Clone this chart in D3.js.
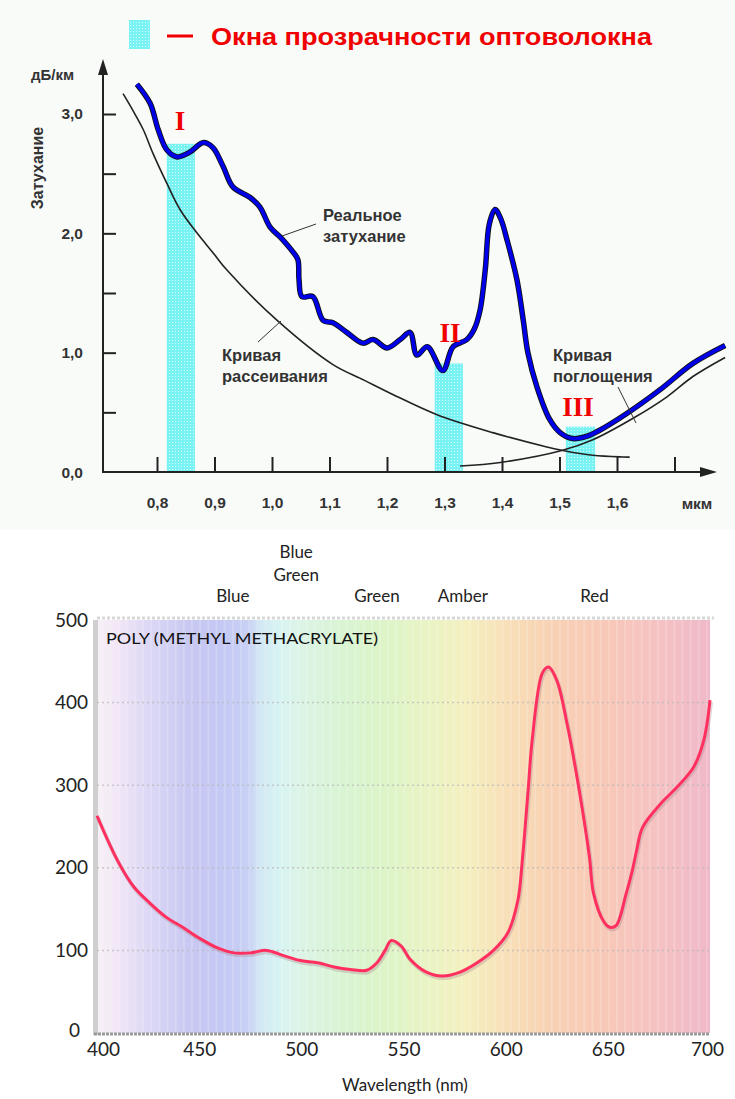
<!DOCTYPE html>
<html><head><meta charset="utf-8">
<script src="https://cdn.jsdelivr.net/npm/d3@7"></script>
<style>
html,body{margin:0;padding:0;background:#fff;}
svg{display:block;}
</style></head>
<body>
<svg id="chart" width="735" height="1099"></svg>
<script>
// ---------- Top chart data (wavelength in µm, attenuation in dB/km) ----------
const topTitle = "Окна прозрачности оптоволокна";
const topXTicks = [0.8, 0.9, 1.0, 1.1, 1.2, 1.3, 1.4, 1.5, 1.6, 1.7];
const topXTickLabels = ["0,8", "0,9", "1,0", "1,1", "1,2", "1,3", "1,4", "1,5", "1,6", ""];
const topYTicks = [0.5, 1.0, 1.5, 2.0, 2.5, 3.0];
const topYTickLabels = {"1": "1,0", "2": "2,0", "3": "3,0"};
const windowLabels = ["I", "II", "III"];
const windowStart = [0.817, 1.283, 1.511];
const windowEnd = [0.866, 1.332, 1.562];
const windowTop = [2.75, 0.91, 0.38];

const realWl = [0.765,0.788,0.802,0.817,0.835,0.857,0.880,0.897,0.915,0.932,0.962,0.979,0.997,1.014,1.037,1.045,1.047,1.052,1.071,1.089,1.106,1.130,1.158,1.176,1.200,1.223,1.240,1.252,1.270,1.297,1.315,1.339,1.352,1.362,1.371,1.378,1.388,1.398,1.409,1.426,1.437,1.445,1.461,1.483,1.501,1.523,1.548,1.570,1.617,1.675,1.732,1.788];
const realVal = [3.25,3.09,2.87,2.70,2.64,2.68,2.76,2.72,2.56,2.39,2.30,2.22,2.05,1.97,1.84,1.78,1.61,1.47,1.47,1.27,1.25,1.17,1.08,1.11,1.04,1.11,1.17,0.98,1.05,0.85,1.05,1.11,1.20,1.36,1.70,2.08,2.20,2.12,1.94,1.61,1.27,1.00,0.71,0.44,0.33,0.28,0.30,0.35,0.49,0.69,0.91,1.06];

const scatterWl = [0.741,0.758,0.776,0.793,0.817,0.840,0.870,0.897,0.922,1.009,1.106,1.160,1.210,1.287,1.384,1.478,1.506,1.558,1.609,1.622];
const scatterVal = [3.17,3.03,2.87,2.67,2.42,2.20,2.00,1.84,1.69,1.27,0.90,0.77,0.65,0.48,0.33,0.21,0.18,0.14,0.126,0.125];

const absorbWl = [1.327,1.397,1.504,1.558,1.628,1.687,1.732,1.788];
const absorbVal = [0.05,0.08,0.18,0.27,0.45,0.63,0.80,0.96];

// ---------- Bottom chart data (PMMA attenuation, wavelength nm) ----------
const pmmaTitle = "POLY (METHYL METHACRYLATE)";
const bandNames = [["Blue"], ["Blue", "Green"], ["Green"], ["Amber"], ["Red"]];
const bandCenters = [466.5, 497.5, 537, 579, 643.5];
const pmmaXTicks = [400, 450, 500, 550, 600, 650, 700];
const pmmaYTicks = [0, 100, 200, 300, 400, 500];
const pmmaWl = [400,410,418,426,434,442,450,459,467,475,483,491,499,508,516,524,532,537,541,544,549,553,561,569,578,586,594,601,606,608,611,613,618,621,625,630,636,641,643,648,651,654,659,662,664,667,676,684,692,697,700];
const pmmaVal = [263,209,177,157,140,128,115,103,97,97,100,94,88,85,80,77,76,85,100,112,105,90,74,69,74,85,100,121,161,205,294,355,436,443,427,375,294,213,169,135,128,130,169,197,220,249,278,298,322,355,403];

// spectrum background colours (decoration)
const specWl = [400,410,420,432,445,460,474,480,490,500,520,540,560,580,600,620,650,680,700];
const specCol = ["#f6f0f6","#f2e6f6","#e4dcf6","#d4d2f4","#c8c8f2","#c4c8f4","#c8d0f4","#d2e8f4","#d8f4f2","#dcf4e6","#d8f4d2","#dcf4c8","#e8f4c4","#f4f0c0","#f8e0b8","#f8d2b4","#f8c8b8","#f4c0c4","#f0b8c8"];

const svg = d3.select("#chart");
const defs = svg.append("defs");

// ================= TOP CHART =================
svg.append("rect").attr("x",0).attr("y",0).attr("width",735).attr("height",530).attr("fill","#f9fbf9");

const xT = d3.scaleLinear().domain([0.8, 1.6]).range([157, 617]);
const yT = d3.scaleLinear().domain([0, 3]).range([472, 114]);

// dotted cyan pattern
const pat = defs.append("pattern").attr("id","dots").attr("width",3).attr("height",3).attr("patternUnits","userSpaceOnUse");
pat.append("rect").attr("width",3).attr("height",3).attr("fill","#78f2f2");
pat.append("rect").attr("x",1).attr("y",1).attr("width",1).attr("height",1).attr("fill","#ffffff").attr("opacity",0.7);

// legend
svg.append("rect").attr("x",129).attr("y",20).attr("width",21).attr("height",29).attr("fill","url(#dots)");
svg.append("line").attr("x1",167).attr("x2",193).attr("y1",36).attr("y2",36).attr("stroke","#f00000").attr("stroke-width",3);
svg.append("text").attr("x",211).attr("y",45).text(topTitle)
  .attr("font-family","'Liberation Sans Narrow','Arial Narrow','Liberation Sans',Arial,sans-serif")
  .attr("font-weight","bold").attr("font-size",24).attr("fill","#f00000")
  .attr("textLength",441).attr("lengthAdjust","spacingAndGlyphs");

// windows
windowLabels.forEach((lab,i)=>{
  svg.append("rect").attr("x",xT(windowStart[i])).attr("width",xT(windowEnd[i])-xT(windowStart[i]))
    .attr("y",yT(windowTop[i])).attr("height",yT(0)-yT(windowTop[i])).attr("fill","url(#dots)");
});

const axLblFont = "'Liberation Sans',Arial,sans-serif";

// axes
const gx = svg.append("g").attr("transform","translate(0,472)")
  .call(d3.axisBottom(xT).tickValues(topXTicks).tickSizeInner(-15).tickSizeOuter(0).tickPadding(25)
    .tickFormat((d,i)=>topXTickLabels[i]));
gx.select(".domain").remove();
gx.selectAll(".tick line").attr("stroke","#222").attr("stroke-width",2);
gx.selectAll(".tick text").attr("font-family",axLblFont).attr("font-weight","bold")
  .attr("font-size",15.5).attr("fill","#333");

const gy = svg.append("g").attr("transform","translate(103,0)")
  .call(d3.axisLeft(yT).tickValues(topYTicks).tickSizeInner(-13).tickSizeOuter(0).tickPadding(20)
    .tickFormat(d=>topYTickLabels[String(d)]||""));
gy.select(".domain").remove();
gy.selectAll(".tick line").attr("stroke","#222").attr("stroke-width",2);
gy.selectAll(".tick text").attr("font-family",axLblFont).attr("font-weight","bold")
  .attr("font-size",15.5).attr("fill","#333");
svg.append("text").attr("x",83).attr("y",478).attr("text-anchor","end").text("0,0")
  .attr("font-family",axLblFont).attr("font-weight","bold").attr("font-size",15.5).attr("fill","#333");

// axis lines with arrows
svg.append("line").attr("x1",103).attr("x2",103).attr("y1",473).attr("y2",70).attr("stroke","#222").attr("stroke-width",2);
svg.append("path").attr("d","M103,59 L98,75 L108,75 Z").attr("fill","#222");
svg.append("line").attr("x1",102).attr("x2",702).attr("y1",472).attr("y2",472).attr("stroke","#222").attr("stroke-width",2);
svg.append("path").attr("d","M717,472 L700,467 L700,477 Z").attr("fill","#222");

svg.append("text").attr("x",31).attr("y",80).text("дБ/км").attr("font-family",axLblFont).attr("font-weight","bold").attr("font-size",15).attr("fill","#333");
svg.append("text").attr("transform","translate(43,168) rotate(-90)").attr("text-anchor","middle").text("Затухание")
  .attr("font-family",axLblFont).attr("font-weight","bold").attr("font-size",16).attr("fill","#333");
svg.append("text").attr("x",697).attr("y",509).attr("text-anchor","middle").text("мкм")
  .attr("font-family",axLblFont).attr("font-weight","bold").attr("font-size",15.5).attr("fill","#333");

// curves
const lineT = (wl, v) => d3.line().x((d,i)=>xT(wl[i])).y((d,i)=>yT(v[i])).curve(d3.curveCatmullRom.alpha(0.5))(wl);
svg.append("path").attr("d",lineT(scatterWl,scatterVal)).attr("fill","none").attr("stroke","#222").attr("stroke-width",1.6);
svg.append("path").attr("d",lineT(absorbWl,absorbVal)).attr("fill","none").attr("stroke","#222").attr("stroke-width",1.6);
svg.append("path").attr("d",lineT(realWl,realVal)).attr("fill","none").attr("stroke","#111").attr("stroke-width",5.5).attr("stroke-linejoin","round");
svg.append("path").attr("d",lineT(realWl,realVal)).attr("fill","none").attr("stroke","#0000e8").attr("stroke-width",3.8).attr("stroke-linejoin","round");

// window numerals
const numX = [180, 450, 578];
const numY = [130, 342, 416];
windowLabels.forEach((lab,i)=>{
  svg.append("text").attr("x",numX[i]).attr("y",numY[i]).attr("text-anchor","middle").text(lab)
    .attr("font-family","'Liberation Serif','Times New Roman',serif").attr("font-weight","bold").attr("font-size",27).attr("fill","#f00000");
});

// annotations
const ann = [
  {lines:["Реальное","затухание"], x:323, y:221, lx1:282, ly1:236, lx2:316, ly2:224},
  {lines:["Кривая","рассеивания"], x:222, y:361, lx1:258, ly1:342, lx2:281, ly2:321},
  {lines:["Кривая","поглощения"], x:553, y:361, lx1:618, ly1:387, lx2:636, ly2:423}
];
ann.forEach(a=>{
  svg.append("line").attr("x1",a.lx1).attr("y1",a.ly1).attr("x2",a.lx2).attr("y2",a.ly2).attr("stroke","#333").attr("stroke-width",1);
  a.lines.forEach((t,j)=>{
    svg.append("text").attr("x",a.x).attr("y",a.y+j*21).text(t).attr("font-family",axLblFont)
      .attr("font-weight","bold").attr("font-size",16.5).attr("fill","#333");
  });
});

// ================= BOTTOM CHART =================
const xB = d3.scaleLinear().domain([400, 700]).range([97, 710]);
const yB = d3.scaleLinear().domain([0, 500]).range([1033, 620]);

const grad = defs.append("linearGradient").attr("id","spec").attr("x1","0%").attr("x2","100%").attr("y1","0%").attr("y2","0%");
specWl.forEach((w,i)=>grad.append("stop").attr("offset",((w-400)/300*100)+"%").attr("stop-color",specCol[i]));
svg.append("rect").attr("x",xB(400)).attr("y",yB(500)).attr("width",xB(700)-xB(400)).attr("height",yB(0)-yB(500)).attr("fill","url(#spec)");

// faint vertical texture stripes
const stripeWl = d3.range(402, 700, 4);
svg.append("g").selectAll("rect").data(stripeWl).join("rect")
  .attr("x",d=>xB(d)).attr("y",yB(500)).attr("width",2).attr("height",yB(0)-yB(500))
  .attr("fill","#ffffff").attr("opacity",0.18);

// left border strip
svg.append("rect").attr("x",93).attr("y",yB(500)).attr("width",5).attr("height",yB(0)-yB(500)+2).attr("fill","#cfcfcf");

// grid lines
svg.append("g").selectAll("line").data([100,200,300,400]).join("line")
  .attr("x1",xB(400)).attr("x2",xB(700)).attr("y1",d=>yB(d)).attr("y2",d=>yB(d))
  .attr("stroke","#b8b8b8").attr("stroke-width",1.5).attr("stroke-dasharray","2,3").attr("opacity",0.7);
svg.append("line").attr("x1",xB(400)).attr("x2",xB(700)+4).attr("y1",yB(500)-2).attr("y2",yB(500)-2)
  .attr("stroke","#d8d8d8").attr("stroke-width",3).attr("stroke-dasharray","3,2");
svg.append("line").attr("x1",xB(400)-3).attr("x2",xB(700)).attr("y1",yB(0)+1).attr("y2",yB(0)+1)
  .attr("stroke","#9a9a9a").attr("stroke-width",3).attr("stroke-dasharray","3,1");

const bFont = "Lato,'Open Sans',sans-serif";
const gbx = svg.append("g").attr("transform",`translate(0,${yB(0)})`)
  .call(d3.axisBottom(xB).tickValues(pmmaXTicks).tickSize(0).tickPadding(10).tickFormat(d3.format("d")));
gbx.select(".domain").remove();
gbx.selectAll(".tick text").attr("font-family",bFont).attr("font-size",19).attr("fill","#222")
  .attr("dx",(d,i)=>i===0?6:(i===pmmaXTicks.length-1?-3:0));

const gby = svg.append("g").attr("transform",`translate(${xB(400)},0)`)
  .call(d3.axisLeft(yB).tickValues(pmmaYTicks).tickSize(0).tickPadding(9).tickFormat(d3.format("d")));
gby.select(".domain").remove();
gby.selectAll(".tick text").attr("font-family",bFont).attr("font-size",19).attr("fill","#222")
  .attr("dx",d=>d===0?-8:0).attr("dy",d=>d===0?"0.2em":"0.32em");

svg.append("text").attr("x",106).attr("y",644).text(pmmaTitle).attr("font-family",bFont).attr("font-size",15)
  .attr("fill","#111").attr("textLength",272).attr("lengthAdjust","spacingAndGlyphs");

// band names
bandNames.forEach((lines,i)=>{
  const n = lines.length;
  lines.forEach((t,j)=>{
    svg.append("text").attr("x",xB(bandCenters[i])).attr("y",(n>1?581:602)-(n-1-j)*23).attr("text-anchor","middle").text(t)
      .attr("font-family",bFont).attr("font-size",17).attr("fill","#222");
  });
});

svg.append("text").attr("x",405).attr("y",1091).attr("text-anchor","middle").text("Wavelength (nm)")
  .attr("font-family",bFont).attr("font-size",17).attr("fill","#222");

// PMMA curve
const lineB = d3.line().x((d,i)=>xB(pmmaWl[i])).y((d,i)=>yB(pmmaVal[i])).curve(d3.curveCatmullRom.alpha(0.5));
svg.append("path").attr("d",lineB(pmmaWl)).attr("fill","none").attr("stroke","#b08890").attr("stroke-width",4).attr("opacity",0.35)
  .attr("transform","translate(1,2)");
svg.append("path").attr("d",lineB(pmmaWl)).attr("fill","none").attr("stroke","#ff3060").attr("stroke-width",3).attr("stroke-linejoin","round");
</script>
</body></html>
